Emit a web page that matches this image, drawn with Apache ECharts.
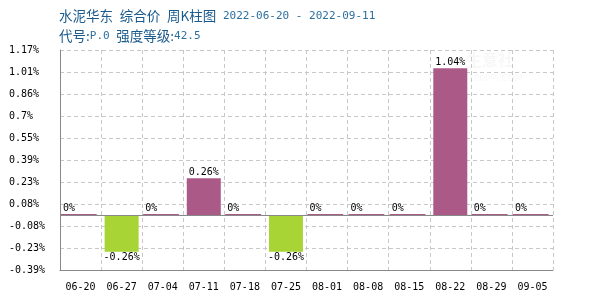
<!DOCTYPE html>
<html><head><meta charset="utf-8">
<script src="https://cdn.jsdelivr.net/npm/echarts@6/dist/echarts.min.js"></script>
<style>html,body{margin:0;padding:0;background:#fff}#c{width:600px;height:300px}</style>
</head><body><div id="c"></div>
<script>
const categories = ['06-20','06-27','07-04','07-11','07-18','07-25','08-01','08-08','08-15','08-22','08-29','09-05'];
const values = [0, -0.26, 0, 0.26, 0, -0.26, 0, 0, 0, 1.04, 0, 0];
const tickLabels = ['-0.39%','-0.23%','-0.08%','0.08%','0.23%','0.39%','0.55%','0.7%','0.86%','1.01%','1.17%'];
const yMin = -0.39, yMax = 1.17;
const titleMain = '水泥华东\u2002综合价\u2002周K柱图\u2002';
const titleDates = '2022-06-20 - 2022-09-11';
const codeLabel = '代号:', codeValue = 'P.0', gradeLabel = '\u2002强度等级:', gradeValue = '42.5';

const POS = '#ab5987', NEG = '#a8d535';
const MONO = 'DejaVu Sans Mono';
const zeroData = values.map((v, i) => [i, v]).filter(d => d[1] === 0);

const richStyle = {
  a: {fontFamily: 'Noto Sans CJK SC', fontSize: 13.5, color: '#1b5a8c', fontWeight: 'normal'},
  b: {fontFamily: MONO, fontSize: 11, color: '#2c6f9f', fontWeight: 'normal'}
};

const chart = echarts.init(document.getElementById('c'), null, {renderer: 'canvas'});
chart.setOption({
  animation: false,
  backgroundColor: '#fff',
  title: [{
    left: 59, top: 9, padding: 0,
    text: '{a|' + titleMain + '}{b|' + titleDates + '}',
    textStyle: {fontWeight: 'normal', rich: richStyle}
  }, {
    left: 59, top: 29, padding: 0,
    text: '{a|' + codeLabel + '}{b|' + codeValue + '}{a|' + gradeLabel + '}{b|' + gradeValue + '}',
    textStyle: {fontWeight: 'normal', rich: richStyle}
  }],
  graphic: [{
    type: 'text', left: 466, top: 52, silent: true,
    style: {text: '生意社', fill: 'rgba(200,200,200,0.15)', font: 'bold 16px "Noto Sans CJK SC"'}
  }, {
    type: 'text', left: 468, top: 74, silent: true,
    style: {text: '100PPI.COM', fill: 'rgba(200,200,200,0.15)', font: '9px "DejaVu Sans"'}
  }],
  grid: {left: 60, right: 47, top: 50, bottom: 30, containLabel: false},
  xAxis: {
    type: 'category', data: categories, boundaryGap: true,
    axisLine: {show: true, lineStyle: {color: '#888', width: 1}},
    axisTick: {show: false},
    axisLabel: {fontFamily: MONO, fontSize: 10, color: '#000', margin: 12, interval: 0},
    splitLine: {show: true, lineStyle: {color: '#c8c8c8', type: [4, 3], width: 1}}
  },
  yAxis: [{
    type: 'value', min: 0, max: tickLabels.length - 1, interval: 1,
    axisLine: {show: true, lineStyle: {color: '#888', width: 1}},
    axisTick: {show: false},
    axisLabel: {fontFamily: MONO, fontSize: 10, color: '#000', align: 'left', margin: 51,
      formatter: v => tickLabels[Math.round(v)]},
    splitLine: {show: true, lineStyle: {color: '#c8c8c8', type: [4, 3], width: 1}}
  }, {
    type: 'value', min: yMin, max: yMax, show: false,
    splitLine: {show: false}
  }],
  series: [{
    type: 'bar', yAxisIndex: 1, barWidth: 34,
    data: values.map(v => ({value: v, itemStyle: {color: v >= 0 ? POS : NEG},
      label: {position: v >= 0 ? 'top' : 'bottom'}})),
    label: {show: true, fontFamily: MONO, fontSize: 10, color: '#000', distance: 1,
      formatter: p => p.value === 0 ? '' : p.value + '%'},
    markLine: {silent: true, symbol: 'none', label: {show: false},
      lineStyle: {color: '#888', type: 'solid', width: 1},
      data: [{yAxis: 0}]},
    z: 2
  }, {
    type: 'custom', yAxisIndex: 1, data: zeroData, z: 3,
    renderItem: (params, api) => {
      const p = api.coord([api.value(0), api.value(1)]);
      const bw = api.size([1, 0])[0];
      const x0 = p[0] - bw / 2 + 1;
      return {type: 'group', children: [{
        type: 'line', shape: {x1: x0, y1: p[1] - 0.5, x2: x0 + bw * 0.87, y2: p[1] - 0.5},
        style: {stroke: POS, lineWidth: 1}
      }, {
        type: 'text', style: {text: api.value(1) + '%', x: x0 + 2, y: p[1] - 2,
          fill: '#000', font: '10px "DejaVu Sans Mono"', textAlign: 'left', textVerticalAlign: 'bottom'}
      }]};
    }
  }]
});
</script></body></html>
